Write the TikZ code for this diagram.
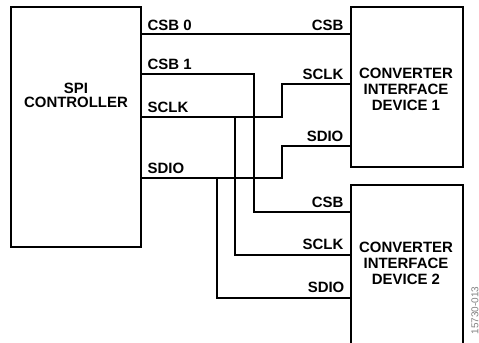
\documentclass[tikz,border=0pt]{standalone}
\usepackage{fontspec}
\setmainfont{Liberation Sans}
\begin{document}
\begin{tikzpicture}[line join=miter,
    blk/.style={draw, rectangle, inner sep=0pt, outer sep=0pt},
    pin/.style={font=\bfseries\fontsize{15}{16}\selectfont, inner sep=0pt},
    blktxt/.style={font=\bfseries\fontsize{15}{16}\selectfont, align=center, inner sep=0pt}]
  \pgfsetlinewidth{1.3bp}
  \useasboundingbox (0bp,0bp) rectangle (479bp,343bp);
  \clip (0bp,0bp) rectangle (479bp,343bp);
%%
  % Node: ctrl
  \node[blk, minimum width=130bp, minimum height=240bp] (ctrl) at (76bp,216bp) {};
  \node[blktxt, font=\bfseries\fontsize{15}{14}\selectfont] (ctrltxt) at (76bp,248bp) {SPI\\CONTROLLER};
  % Node: dev1
  \node[blk, minimum width=112bp, minimum height=160bp] (dev1) at (407bp,256bp) {};
  \node[blktxt] (dev1txt) at (406bp,254bp) {CONVERTER\\INTERFACE\\DEVICE 1};
  % Node: dev2
  \node[blk, minimum width=112bp, minimum height=160bp] (dev2) at (407bp,78bp) {};
  \node[blktxt] (dev2txt) at (406bp,79.5bp) {CONVERTER\\INTERFACE\\DEVICE 2};
%%
  % Pins
  \coordinate (ccsb0) at (141bp,309bp);
  \coordinate (ccsb1) at (141bp,269bp);
  \coordinate (csclk) at (141bp,226bp);
  \coordinate (csdio) at (141bp,165bp);
  \coordinate (d1csb) at (351bp,309bp);
  \coordinate (d1sclk) at (351bp,259bp);
  \coordinate (d1sdio) at (351bp,197bp);
  \coordinate (d2csb) at (351bp,131bp);
  \coordinate (d2sclk) at (351bp,88bp);
  \coordinate (d2sdio) at (351bp,45bp);
  \coordinate (sclkj) at (235bp,226bp);
  \coordinate (sdioj) at (217bp,165bp);
%%
  % Edge: CSB 0 -> dev1
  \draw (ccsb0) -- (d1csb);
  % Edge: CSB 1 -> dev2
  \draw (ccsb1) -- ++(113bp,0bp) |- (d2csb);
  % Edge: SCLK -> dev1, dev2
  \draw (csclk) -- ++(141bp,0bp) |- (d1sclk);
  \draw (sclkj) |- (d2sclk);
  % Edge: SDIO -> dev1, dev2
  \draw (csdio) -- ++(141bp,0bp) |- (d1sdio);
  \draw (sdioj) |- (d2sdio);
%%
  % Labels
  \node[pin, anchor=base west] (lcsb0) at (147bp,312bp) {CSB 0};
  \node[pin, anchor=base west] (lcsb1) at (147bp,273.5bp) {CSB 1};
  \node[pin, anchor=base west] (lsclk) at (147bp,230bp) {SCLK};
  \node[pin, anchor=base west] (lsdio) at (147bp,169.5bp) {SDIO};
  \node[pin, anchor=base east] (r1csb) at (344bp,312bp) {CSB};
  \node[pin, anchor=base east] (r1sclk) at (344bp,263.5bp) {SCLK};
  \node[pin, anchor=base east] (r1sdio) at (344bp,201bp) {SDIO};
  \node[pin, anchor=base east] (r2csb) at (344bp,135.5bp) {CSB};
  \node[pin, anchor=base east] (r2sclk) at (344bp,93bp) {SCLK};
  \node[pin, anchor=base east] (r2sdio) at (345bp,50bp) {SDIO};
  % Figure number
  \node[font=\fontsize{10}{11}\selectfont, text=gray, rotate=90, anchor=east, inner sep=0pt] (figid) at (475bp,57bp) {15730-013};
%
\end{tikzpicture}
\end{document}
